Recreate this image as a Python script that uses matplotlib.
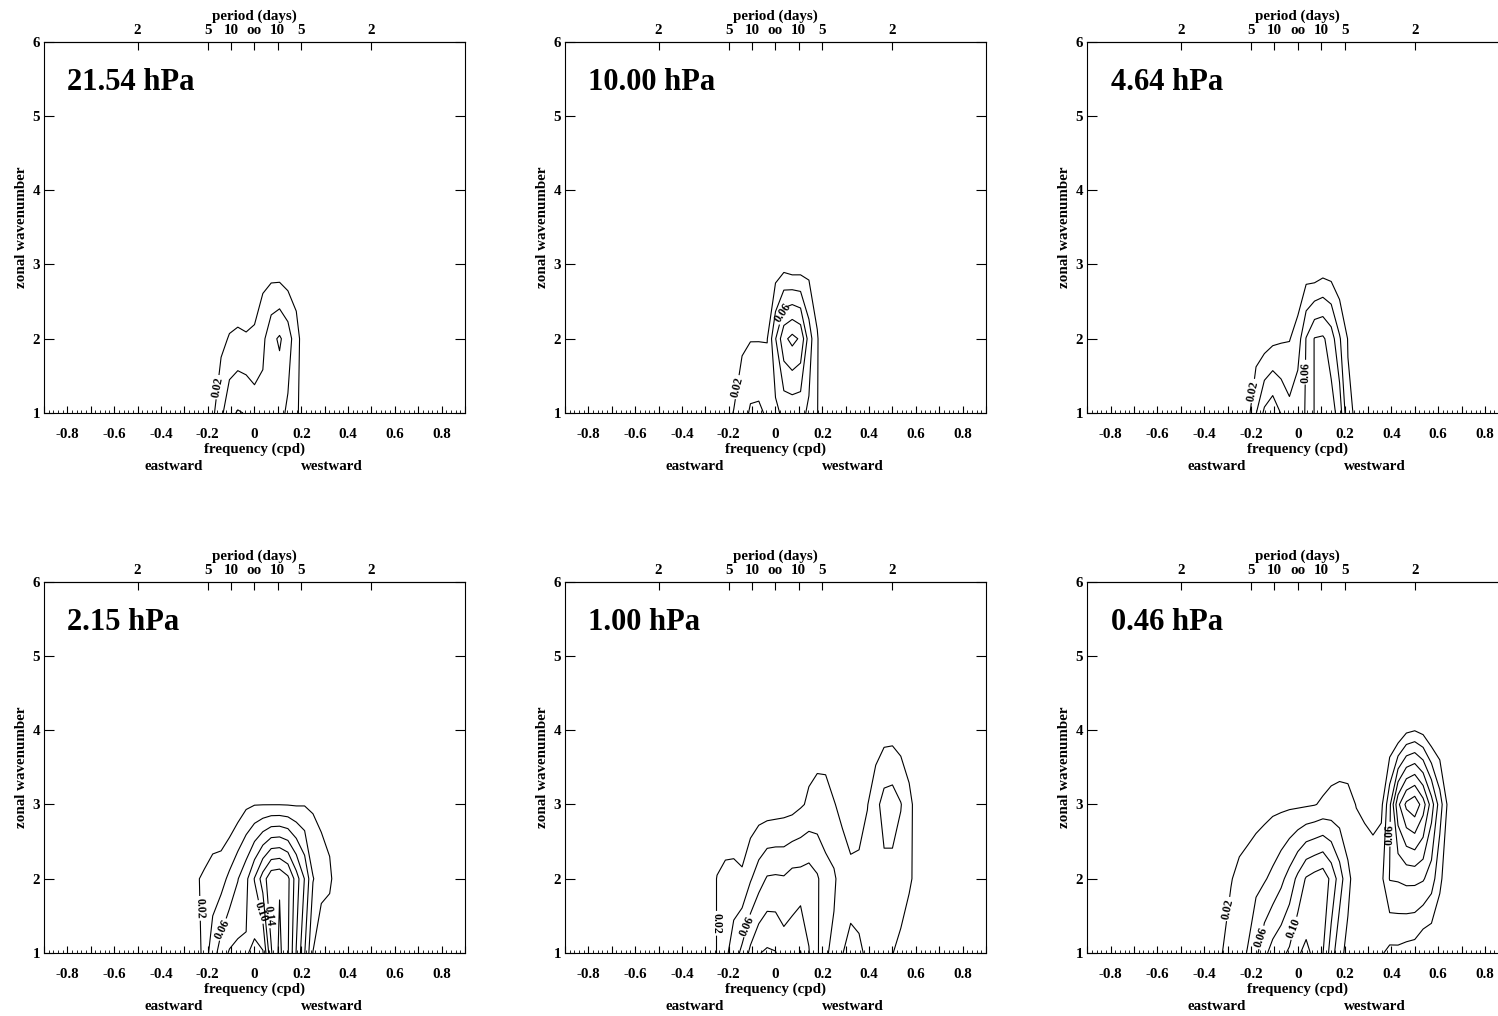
import numpy as np
import matplotlib
matplotlib.use('Agg')
import matplotlib.pyplot as plt
from matplotlib.ticker import MultipleLocator, FuncFormatter, NullLocator

plt.rcParams['font.family'] = ['Liberation Serif', 'DejaVu Serif']
plt.rcParams['font.weight'] = 'bold'
plt.rcParams['axes.labelweight'] = 'bold'

# grid: frequency columns (cpd, step 1/28) and zonal wavenumber rows 1..6
freq = np.arange(-11, 21) / 28.0
wavenum = np.arange(1, 7)

titles = ['21.54 hPa', '10.00 hPa', '4.64 hPa', '2.15 hPa', '1.00 hPa', '0.46 hPa']
plain_levels = [0.04, 0.08, 0.12, 0.16]
label_levels = [0.02, 0.06, 0.10, 0.14]

period_ticks = [-0.5, -0.2, -0.1, 0.0, 0.1, 0.2, 0.5]
period_labels = ['2', '5', '10', 'oo', '10', '5', '2']

# amplitudes, rows k=1..4 (k=5,6 are zero)
amp_2154 = [
    [0]*6 + [0.016, 0.035, 0.055, 0.0616, 0.059, 0.0494, 0.047, 0.05, 0.047, 0.036, 0.025, 0.005] + [0]*14,
    [0]*7 + [0.015, 0.0215, 0.0237, 0.022, 0.0247, 0.035, 0.0549, 0.0625, 0.051, 0.0265, 0.01] + [0]*14,
    [0]*12 + [0.0104, 0.0084, 0.0066, 0.003, 0.009] + [0]*15,
    [0]*32,
]
amp_1000 = [
    [0]*5 + [0.011, 0.021, 0.03, 0.043, 0.044, 0.037, 0.035, 0.045, 0.045, 0.045, 0.037, 0.021, 0] + [0]*14,
    [0]*7 + [0.017, 0.019, 0.019, 0.019, 0.059, 0.095, 0.106, 0.097, 0.05, 0.022] + [0]*15,
    [0]*11 + [0.007, 0.011, 0.006, 0.0075, 0.012, 0.006] + [0]*15,
    [0]*32,
]
amp_464 = [
    [0]*4 + [0.005, 0.0126, 0.039, 0.0644, 0.074, 0.059, 0.046, 0.055, 0.061, 0.081, 0.085, 0.088, 0.0723, 0.023, 0.018] + [0]*13,
    [0]*6 + [0.0084, 0.0089, 0.0144, 0.0175, 0.019, 0.029, 0.061, 0.081, 0.083, 0.0705, 0.0423, 0.019] + [0]*14,
    [0]*12 + [0.005, 0, 0.006, 0.005] + [0]*16,
    [0]*32,
]
amp_215 = [
    [0]*4 + [0.005, 0.03, 0.05, 0.07, 0.082, 0.085, 0.082, 0.075, 0.078, 0.138, 0.165, 0.142, 0.099, 0.061, 0.0195] + [0]*13,
    [0]*4 + [0.018, 0.023, 0.03, 0.032, 0.045, 0.059, 0.075, 0.101, 0.13, 0.155, 0.158, 0.145, 0.11, 0.079, 0.041, 0.03, 0.025, 0.005] + [0]*10,
    [0]*9 + [0.0074, 0.016, 0.0192, 0.0195, 0.0195, 0.0195, 0.019, 0.0182, 0.0188, 0.017, 0.014, 0.0083] + [0]*11,
    [0]*32,
]
amp_100 = [
    [0]*3 + [0.005, 0.021, 0.035, 0.05, 0.065, 0.085, 0.099, 0.103, 0.101, 0.09, 0.092, 0.101, 0.081, 0.063, 0.042, 0.036,
             0.039, 0.05, 0.045, 0.035, 0.03, 0.025, 0.0205, 0.015] + [0]*5,
    [0]*3 + [0.005, 0.021, 0.0267, 0.0274, 0.0238, 0.038, 0.0509, 0.062, 0.063, 0.062, 0.068, 0.068, 0.07, 0.0626, 0.048,
             0.0431, 0.03, 0.025, 0.026, 0.03, 0.03, 0.0344, 0.033, 0.03, 0.025, 0.01] + [0]*3,
    [0]*8 + [0.005, 0.008, 0.0082, 0.0093, 0.0108, 0.0122, 0.0175, 0.023, 0.025, 0.025, 0.021, 0.0153, 0.0098, 0.0106,
             0.0192, 0.0335, 0.048, 0.05, 0.041, 0.026, 0.0106] + [0]*3,
    [0]*15 + [0.0105, 0.013, 0.0125, 0.0043, 0, 0, 0, 0, 0.008, 0.0116, 0.012, 0.0087, 0.0053] + [0]*4,
]
amp_046 = [
    [0]*1 + [0.005, 0.0205, 0.028, 0.034, 0.041, 0.055, 0.075, 0.088, 0.095, 0.103, 0.118, 0.124, 0.116, 0.101, 0.07,
             0.045, 0.035, 0.03, 0.028, 0.025, 0.022, 0.015, 0.015, 0.012, 0.01] + [0]*6,
    [0]*3 + [0.019, 0.025, 0.03, 0.035, 0.038, 0.045, 0.055, 0.068, 0.085, 0.102, 0.108, 0.1126, 0.095, 0.07, 0.045,
             0.03, 0.025, 0.03, 0.035, 0.061, 0.062, 0.065, 0.065, 0.062, 0.05, 0.025, 0.005] + [0]*2,
    [0]*4 + [0.008, 0.0078, 0.0104, 0.0133, 0.0152, 0.0157, 0.0164, 0.0166, 0.0175, 0.0191, 0.0226, 0.025, 0.026,
             0.025, 0.0195, 0.0183, 0.013, 0.015, 0.055, 0.115, 0.145, 0.155, 0.13, 0.09, 0.05, 0.015] + [0]*2,
    [0]*15 + [0.005, 0.0066, 0.0071] + [0]*6 + [0.015, 0.019, 0.013] + [0]*5,
]
amps = [amp_2154, amp_1000, amp_464, amp_215, amp_100, amp_046]

# where the contour labels sit (frequency, wavenumber)
label_spots = [
    [(-0.16, 1.35)],
    [(-0.165, 1.35), (0.05, 2.3)],
    [(-0.195, 1.3), (0.03, 1.55)],
    [(-0.24, 1.6), (-0.13, 1.3), (0.025, 1.55), (0.065, 1.5)],
    [(-0.255, 1.4), (-0.115, 1.35)],
    [(-0.305, 1.6), (-0.15, 1.2), (0.0, 1.3), (0.39, 2.6)],
]

FS = 10.8


def xfmt(x, pos):
    v = round(x, 2)
    if abs(round(v * 10)) % 2:
        return ''
    if abs(v) < 1e-9:
        return '0'
    return '%.1f' % v


fig = plt.figure(figsize=(14.98, 10.16), dpi=100)
lefts = [0.02937, 0.37717, 0.72583]
bottoms = [0.5935, 0.0620]
w, h = 0.28104, 0.3655

for i in range(6):
    ax = fig.add_axes([lefts[i % 3], bottoms[i // 3], w, h])
    z = np.zeros((len(wavenum), len(freq)))
    z[:4] = np.array(amps[i])
    ax.contour(freq, wavenum, z, levels=plain_levels, colors='k', linewidths=0.8)
    cl = ax.contour(freq, wavenum, z, levels=label_levels, colors='k', linewidths=0.8)
    lbls = ax.clabel(cl, manual=label_spots[i], inline=True,
                     inline_spacing=2, fmt='%.2f', fontsize=8.5)
    for t in lbls:
        t.set_fontweight('bold')

    ax.set_xlim(-0.9, 0.9)
    ax.set_ylim(1, 6)
    ax.xaxis.set_major_locator(MultipleLocator(0.1))
    ax.xaxis.set_minor_locator(MultipleLocator(0.02))
    ax.xaxis.set_major_formatter(FuncFormatter(xfmt))
    ax.yaxis.set_major_locator(MultipleLocator(1))
    ax.yaxis.set_minor_locator(NullLocator())
    ax.tick_params(axis='x', which='major', direction='in', length=5, width=0.8,
                   top=False, labelsize=FS, pad=10.5)
    ax.tick_params(axis='x', which='minor', direction='in', length=2.5, width=0.6, top=False)
    ax.tick_params(axis='y', direction='in', length=7, width=0.8, left=True, right=True,
                   labelsize=FS, pad=3)
    for t in ax.get_xticklabels() + ax.get_yticklabels():
        t.set_fontweight('bold')
    for s in ax.spines.values():
        s.set_linewidth(0.8)

    ax.set_xlabel('frequency (cpd)', fontsize=FS, fontweight='bold', labelpad=1.5)
    ax.set_ylabel('zonal wavenumber', fontsize=FS, fontweight='bold', labelpad=3)
    ax.text(-0.347, -0.145, 'eastward', transform=ax.get_xaxis_transform(),
            ha='center', va='center', fontsize=FS, fontweight='bold')
    ax.text(0.33, -0.145, 'westward', transform=ax.get_xaxis_transform(),
            ha='center', va='center', fontsize=FS, fontweight='bold')

    sec = ax.secondary_xaxis('top')
    sec.set_xticks(period_ticks, labels=period_labels)
    sec.xaxis.set_minor_locator(NullLocator())
    sec.tick_params(direction='in', length=6, width=0.8, labelsize=FS, pad=3.5)
    for t in sec.get_xticklabels():
        t.set_fontweight('bold')
    sec.set_xlabel('period (days)', fontsize=FS, fontweight='bold', labelpad=3)

    ax.text(-0.80, 5.45, titles[i], fontsize=22, fontweight='bold', ha='left', va='center')

fig.savefig('out.png', dpi=100)
